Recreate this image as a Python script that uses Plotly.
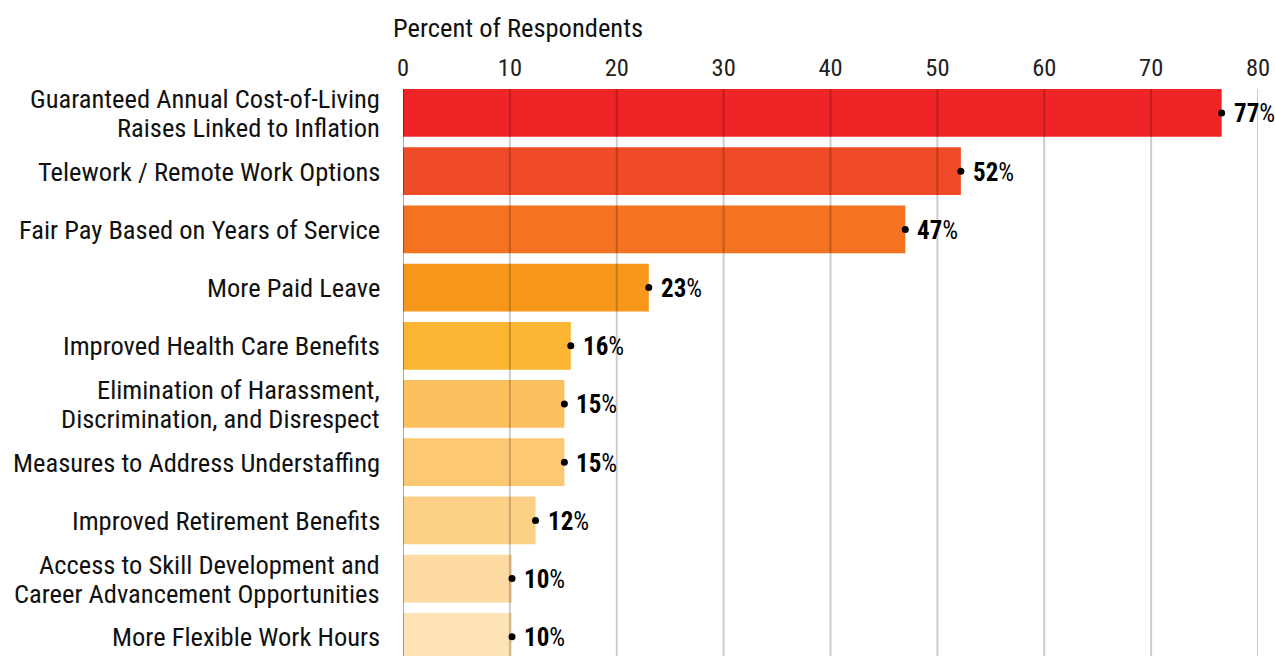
import plotly.graph_objects as go

categories = [
    "Guaranteed Annual Cost-of-Living<br>Raises Linked to Inflation",
    "Telework / Remote Work Options",
    "Fair Pay Based on Years of Service",
    "More Paid Leave",
    "Improved Health Care Benefits",
    "Elimination of Harassment,<br>Discrimination, and Disrespect",
    "Measures to Address Understaffing",
    "Improved Retirement Benefits",
    "Access to Skill Development and<br>Career Advancement Opportunities",
    "More Flexible Work Hours",
]
values = [76.6, 52.2, 47.0, 23.0, 15.7, 15.1, 15.1, 12.4, 10.2, 10.2]
labels = ["77", "52", "47", "23", "16", "15", "15", "12", "10", "10"]
bar_colors = ["#EE2426", "#EF4B29", "#F37321", "#F7981D", "#FBB532",
              "#FDC05E", "#FDC874", "#FDD088", "#FDDAA2", "#FEE3B6"]
tick_vals = [0, 10, 20, 30, 40, 50, 60, 70, 80]

FONT = "Roboto Condensed, Liberation Sans Narrow, Roboto, sans-serif"

fig = go.Figure()
fig.add_trace(go.Bar(
    y=categories, x=values, orientation="h",
    marker=dict(color=bar_colors, line=dict(width=0)),
    width=0.82, hoverinfo="skip",
))
fig.add_trace(go.Scatter(
    y=categories, x=values, mode="markers",
    marker=dict(color="#000000", size=7),
    cliponaxis=False, hoverinfo="skip",
))

# value labels
for cat, v, l in zip(categories, values, labels):
    fig.add_annotation(x=v, y=cat, xref="x", yref="y", text="<b>" + l + "</b>%",
                       xanchor="left", yanchor="middle", xshift=10, yshift=-1,
                       showarrow=False,
                       font=dict(family=FONT, size=25, color="#000000"))

# category labels (tight line spacing)
for cat in categories:
    lines = cat.split("<br>")
    n = len(lines)
    for k, line in enumerate(lines):
        off = (k - (n - 1) / 2) * 29
        fig.add_annotation(x=0, y=cat, xref="paper", yref="y", text=line,
                           xanchor="right", yanchor="middle", xshift=-22, yshift=-off,
                           showarrow=False, borderpad=0,
                           font=dict(family=FONT, size=26.5, color="#111111"))

for t in tick_vals:
    fig.add_shape(type="line", xref="x", yref="paper", x0=t, x1=t, y0=0, y1=1,
                  layer="above",
                  line=dict(color="rgba(0,0,0,0.32)" if t == 0 else "rgba(0,0,0,0.2)", width=2))

fig.add_annotation(text="Percent of Respondents", xref="paper", yref="paper",
                   x=0, y=1, xanchor="left", yanchor="bottom", xshift=-12, yshift=44,
                   showarrow=False, font=dict(family=FONT, size=26.5, color="#111111"))

fig.update_layout(
    width=1275, height=656,
    margin=dict(l=403, r=17, t=89, b=0),
    paper_bgcolor="white", plot_bgcolor="white",
    showlegend=False,
    font=dict(family=FONT, color="#111111"),
    bargap=0.18,
)
fig.update_xaxes(side="top", range=[0, 80], tickvals=tick_vals, showgrid=False,
                 zeroline=False, showline=False, ticks="",
                 tickfont=dict(family=FONT, size=24.5, color="#222222"),
                 ticklabelstandoff=7)
fig.update_yaxes(type="category", categoryorder="array", categoryarray=categories,
                 range=[9.33, -0.412], showgrid=False, zeroline=False, ticks="",
                 showticklabels=False)

fig.write_html("out.html")
